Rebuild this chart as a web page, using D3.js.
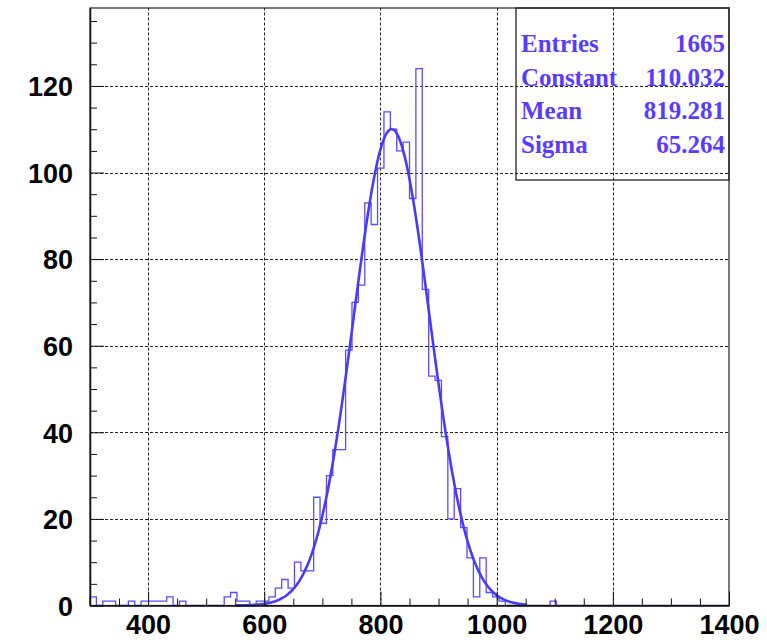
<!DOCTYPE html>
<html>
<head>
<meta charset="utf-8">
<script src="https://cdn.jsdelivr.net/npm/d3@7"></script>
<style>
  body { margin: 0; background: white; }
  svg { display: block; }
</style>
</head>
<body>
<svg id="chart"></svg>
<script>
var width = 767;
var height = 642;

// histogram : 100 bins of width 11 from 300 to 1400
var binLow = 300;
var binWidth = 11;
var counts = [
  2, 0, 1, 1, 0, 0, 1, 0, 1, 1,
  1, 1, 2, 0, 1, 0, 0, 0, 0, 0,
  0, 2, 3, 1, 1, 0, 1, 1, 2, 4,
  6, 4, 10, 8, 8, 25, 19, 30, 36, 36,
  59, 70, 74, 93, 88, 101, 114, 110, 105, 107,
  94, 124, 73, 53, 52, 39, 20, 27, 18, 11,
  2, 11, 3, 2, 1, 0, 0, 0, 0, 0,
  0, 0, 1, 0, 0, 0, 0, 0, 0, 0,
  0, 0, 0, 0, 0, 0, 0, 0, 0, 0,
  0, 0, 0, 0, 0, 0, 0, 0, 0, 0
];

// gaussian fit shown in the stat box
var fitConstant = 110.032;
var fitMean = 819.281;
var fitSigma = 65.264;
var fitRange = [550, 1052];

var statLabels = ["Entries", "Constant", "Mean", "Sigma"];
var statValues = ["1665", "110.032", "819.281", "65.264"];

var xTicks = [400, 600, 800, 1000, 1200, 1400];
var yTicks = [0, 20, 40, 60, 80, 100, 120];

var margin = {left: 90, right: 38, top: 8, bottom: 36.5};
var histColor = "#5a4cff";
var fitColor = "#4b3af5";
var statColor = "#5a3cff";

var svg = d3.select("#chart")
  .attr("width", width)
  .attr("height", height);

var x = d3.scaleLinear()
  .domain([300, 1400])
  .range([margin.left, width - margin.right]);

var y = d3.scaleLinear()
  .domain([0, 138])
  .range([height - margin.bottom, margin.top]);

////////////////////////////////////////////////////////////////////////////////
//                                                                       Grid //
////////////////////////////////////////////////////////////////////////////////

var grid = svg.append("g")
  .attr("stroke", "#222")
  .attr("stroke-width", 1)
  .attr("stroke-dasharray", "3,2");

grid.selectAll(".gx")
  .data(xTicks.filter(function(d) { return d < 1400; }))
  .enter().append("line")
  .attr("x1", function(d) { return Math.round(x(d)) + 0.5; })
  .attr("x2", function(d) { return Math.round(x(d)) + 0.5; })
  .attr("y1", y.range()[0])
  .attr("y2", y.range()[1]);

grid.selectAll(".gy")
  .data(yTicks.filter(function(d) { return d > 0; }))
  .enter().append("line")
  .attr("x1", x.range()[0])
  .attr("x2", x.range()[1])
  .attr("y1", function(d) { return Math.round(y(d)) + 0.5; })
  .attr("y2", function(d) { return Math.round(y(d)) + 0.5; });

////////////////////////////////////////////////////////////////////////////////
//                                                       Histogram & gaussian //
////////////////////////////////////////////////////////////////////////////////

// step outline of the histogram
var steps = [[binLow, 0]];
counts.forEach(function(c, i) {
  steps.push([binLow + i * binWidth, c]);
  steps.push([binLow + (i + 1) * binWidth, c]);
});
steps.push([binLow + counts.length * binWidth, 0]);

svg.append("path")
  .datum(steps)
  .attr("fill", "none")
  .attr("stroke", histColor)
  .attr("stroke-width", 1.3)
  .attr("d", d3.line()
    .x(function(d) { return x(d[0]); })
    .y(function(d) { return y(d[1]); }));

var fitPoints = d3.range(fitRange[0], fitRange[1] + 1, 2).map(function(u) {
  var z = (u - fitMean) / fitSigma;
  return [u, fitConstant * Math.exp(-0.5 * z * z)];
});

svg.append("path")
  .datum(fitPoints)
  .attr("fill", "none")
  .attr("stroke", fitColor)
  .attr("stroke-width", 2.6)
  .attr("d", d3.line()
    .curve(d3.curveBasis)
    .x(function(d) { return x(d[0]); })
    .y(function(d) { return y(d[1]); }));

////////////////////////////////////////////////////////////////////////////////
//                                                               Frame & axes //
////////////////////////////////////////////////////////////////////////////////

svg.append("rect")
  .attr("x", x.range()[0])
  .attr("y", y.range()[1])
  .attr("width", x.range()[1] - x.range()[0])
  .attr("height", y.range()[0] - y.range()[1])
  .attr("fill", "none")
  .attr("stroke", "#222")
  .attr("stroke-width", 1.2);

var axisFont = "'Liberation Sans', Arial, sans-serif";

var xAxis = d3.axisBottom(x)
  .tickValues(d3.range(300, 1401, 50))
  .tickSize(0)
  .tickFormat("");

var gx = svg.append("g")
  .attr("transform", "translate(0," + y.range()[0] + ")")
  .call(xAxis);
gx.select(".domain").attr("stroke", "#111").attr("stroke-width", 1.5);
gx.selectAll(".tick line")
  .attr("y2", function(d) { return d % 200 == 0 ? -14 : -7; })
  .attr("stroke", "#111");
gx.selectAll(".tick")
  .filter(function(d) { return xTicks.indexOf(d) >= 0; })
  .append("text")
  .attr("y", 28)
  .attr("fill", "#000")
  .attr("font-family", axisFont)
  .attr("font-weight", "bold")
  .attr("font-size", "27px")
  .attr("text-anchor", "middle")
  .text(function(d) { return d; });

var yAxis = d3.axisLeft(y)
  .tickValues(d3.range(0, 136, 5))
  .tickSize(0)
  .tickFormat("");

var gy = svg.append("g")
  .attr("transform", "translate(" + x.range()[0] + ",0)")
  .call(yAxis);
gy.select(".domain").attr("stroke", "#111").attr("stroke-width", 1.5);
gy.selectAll(".tick line")
  .attr("x2", function(d) { return d % 20 == 0 ? 14 : 7; })
  .attr("stroke", "#111");
gy.selectAll(".tick")
  .filter(function(d) { return yTicks.indexOf(d) >= 0; })
  .append("text")
  .attr("x", -17)
  .attr("dy", "0.36em")
  .attr("fill", "#000")
  .attr("font-family", axisFont)
  .attr("font-weight", "bold")
  .attr("font-size", "27px")
  .attr("text-anchor", "end")
  .text(function(d) { return d; });

////////////////////////////////////////////////////////////////////////////////
//                                                                   Stat box //
////////////////////////////////////////////////////////////////////////////////

var box = {x0: 516, x1: x.range()[1], y0: y.range()[1], y1: 180};

svg.append("rect")
  .attr("x", box.x0)
  .attr("y", box.y0)
  .attr("width", box.x1 - box.x0)
  .attr("height", box.y1 - box.y0)
  .attr("fill", "none")
  .attr("stroke", "#222")
  .attr("stroke-width", 1.3);

var stats = svg.append("g")
  .attr("fill", statColor)
  .attr("font-family", "'Liberation Serif', 'Times New Roman', serif")
  .attr("font-weight", "bold")
  .attr("font-size", "25px");

statLabels.forEach(function(label, i) {
  var base = 52 + i * 33.5;
  stats.append("text")
    .attr("x", box.x0 + 5)
    .attr("y", base)
    .attr("textLength", label == "Constant" ? 96 : null)
    .text(label);
  stats.append("text")
    .attr("x", box.x1 - 4)
    .attr("y", base)
    .attr("text-anchor", "end")
    .text(statValues[i]);
});
</script>
</body>
</html>
